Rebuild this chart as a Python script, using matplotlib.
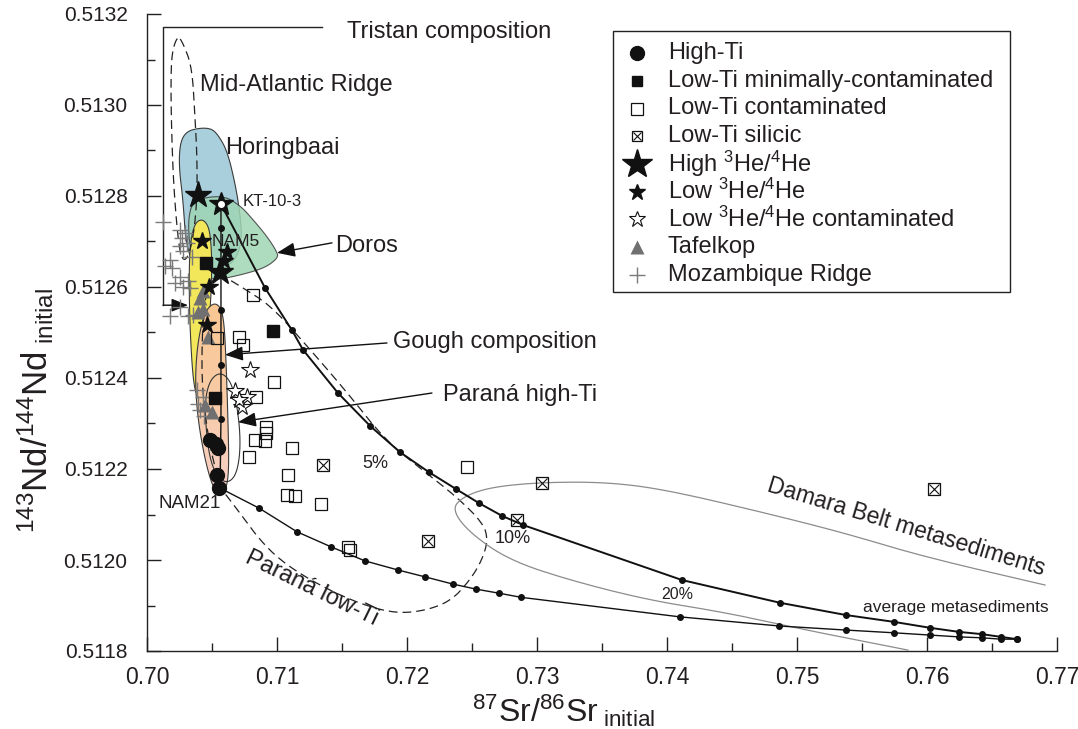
import numpy as np
import matplotlib
matplotlib.use('Agg')
import matplotlib.pyplot as plt
from matplotlib import font_manager
from matplotlib.patches import Polygon, Rectangle
from matplotlib.colors import LinearSegmentedColormap
from matplotlib.ticker import MultipleLocator, FormatStrFormatter


def has_font(name):
    try:
        font_manager.findfont(font_manager.FontProperties(family=name), fallback_to_default=False)
        return True
    except Exception:
        return False


REG = 'Liberation Sans' if has_font('Liberation Sans') else 'DejaVu Sans'
HAS_NARROW = has_font('Liberation Sans Narrow')
NARROW = 'Liberation Sans Narrow' if HAS_NARROW else REG

plt.rcParams['font.family'] = [REG, 'DejaVu Sans']
plt.rcParams['mathtext.fontset'] = 'custom'
plt.rcParams['mathtext.rm'] = NARROW
plt.rcParams['mathtext.it'] = NARROW + ':italic'
plt.rcParams['mathtext.bf'] = NARROW + ':bold'

TXT = '#231f20'

# ---- sample data (87Sr/86Sr, 143Nd/144Nd) ----
hiti_sr = [0.70485, 0.70531, 0.70546, 0.70538, 0.70554]
hiti_nd = [0.512264, 0.512255, 0.512246, 0.512187, 0.512158]

lowti_min_sr = [0.70454, 0.70523, 0.70969]
lowti_min_nd = [0.512653, 0.512356, 0.512503]

lowti_cont_sr = [0.70815, 0.70538, 0.70708, 0.70738, 0.70977, 0.70838, 0.70915, 0.70915, 0.70831,
                 0.70908, 0.70785, 0.71115, 0.71085, 0.71077, 0.71138, 0.71338, 0.71546, 0.71562, 0.72462]
lowti_cont_nd = [0.512582, 0.512488, 0.512490, 0.512473, 0.512391, 0.512358, 0.512292, 0.512279, 0.512264,
                 0.512262, 0.512226, 0.512246, 0.512187, 0.512143, 0.512141, 0.512123, 0.512029, 0.512022, 0.512204]

silicic_sr = [0.71354, 0.72162, 0.72846, 0.73038, 0.76054]
silicic_nd = [0.512209, 0.512042, 0.512088, 0.512169, 0.512156]

hihe_sr = [0.70392, 0.70562]
hihe_nd = [0.512802, 0.512633]

lowhe_sr = [0.70423, 0.70615, 0.70592, 0.70477, 0.70462]
lowhe_nd = [0.512701, 0.512677, 0.512657, 0.512600, 0.512516]

kt_sr, kt_nd = 0.70569, 0.512782

lowhe_cont_sr = [0.70792, 0.70677, 0.70769, 0.70731, 0.70708]
lowhe_cont_nd = [0.512418, 0.512371, 0.512358, 0.512336, 0.512352]

tafel_sr = [0.70431, 0.70408, 0.70431, 0.70392, 0.70469, 0.70500, 0.70446]
tafel_nd = [0.512591, 0.512576, 0.512552, 0.512545, 0.512490, 0.512325, 0.512341]

moz_sr = [0.70123, 0.70254, 0.70292, 0.70269, 0.70308, 0.70254, 0.70277, 0.70346, 0.70177, 0.70138,
          0.70192, 0.70254, 0.70315, 0.70215, 0.70277, 0.70331, 0.70254, 0.70177, 0.70315, 0.70354,
          0.70385, 0.70431, 0.70392, 0.70408, 0.70438]
moz_nd = [0.512743, 0.512725, 0.512719, 0.512708, 0.512697, 0.512690, 0.512679, 0.512666, 0.512659, 0.512646,
          0.512642, 0.512622, 0.512613, 0.512609, 0.512600, 0.512598, 0.512556, 0.512536, 0.512536, 0.512538,
          0.512374, 0.512358, 0.512343, 0.512330, 0.512316]

# ---- mixing curves ----
vert_sr = [0.70569, 0.70569, 0.70569, 0.70569, 0.70569, 0.70562]
vert_nd = [0.512782, 0.512730, 0.512549, 0.512429, 0.512310, 0.512158]

upper_sr = [0.70569, 0.70908, 0.71115, 0.71200, 0.71469, 0.71715, 0.71946, 0.72169, 0.72377, 0.72554,
            0.72731, 0.72892, 0.74115, 0.74869, 0.75377, 0.75746, 0.76023, 0.76246, 0.76423, 0.76569, 0.76692]
upper_nd = [0.512782, 0.512598, 0.512505, 0.512462, 0.512367, 0.512295, 0.512237, 0.512193, 0.512156, 0.512125,
            0.512097, 0.512077, 0.511956, 0.511906, 0.511879, 0.511864, 0.511851, 0.511842, 0.511837, 0.511831, 0.511826]

lower_sr = [0.70562, 0.70862, 0.71154, 0.71415, 0.71677, 0.71931, 0.72138, 0.72354, 0.72531, 0.72708,
            0.72877, 0.74100, 0.74862, 0.75377, 0.75746, 0.76023, 0.76246, 0.76423, 0.76569, 0.76692]
lower_nd = [0.512158, 0.512114, 0.512062, 0.512029, 0.511998, 0.511978, 0.511963, 0.511947, 0.511936, 0.511927,
            0.511918, 0.511875, 0.511855, 0.511846, 0.511840, 0.511835, 0.511831, 0.511829, 0.511826, 0.511826]

# ---- fields ----
horing_sr = [0.70392, 0.70485, 0.70538, 0.70615, 0.70677, 0.70715, 0.70731, 0.70677, 0.70523, 0.70369,
             0.70300, 0.70277, 0.70246, 0.70254, 0.70300]
horing_nd = [0.512949, 0.512949, 0.512938, 0.512901, 0.512829, 0.512763, 0.512703, 0.512655, 0.512633, 0.512642,
             0.512692, 0.512791, 0.512864, 0.512916, 0.512941]

doros_sr = [0.70354, 0.70577, 0.70715, 0.70831, 0.70931, 0.71000, 0.71008, 0.70908, 0.70715, 0.70523,
            0.70408, 0.70331, 0.70315]
doros_nd = [0.512791, 0.512802, 0.512780, 0.512743, 0.512708, 0.512677, 0.512664, 0.512642, 0.512626, 0.512615,
            0.512626, 0.512681, 0.512747]

nam5_sr = [0.70408, 0.70454, 0.70485, 0.70500, 0.70492, 0.70462, 0.70423, 0.70385, 0.70354, 0.70331,
           0.70323, 0.70331, 0.70362]
nam5_nd = [0.512749, 0.512743, 0.512721, 0.512659, 0.512571, 0.512484, 0.512400, 0.512356, 0.512396, 0.512505,
           0.512615, 0.512692, 0.512736]

nam21_sr = [0.70508, 0.70562, 0.70592, 0.70608, 0.70623, 0.70631, 0.70608, 0.70562, 0.70508, 0.70446,
            0.70392, 0.70369, 0.70392, 0.70446]
nam21_nd = [0.512565, 0.512558, 0.512527, 0.512440, 0.512308, 0.512198, 0.512154, 0.512143, 0.512158, 0.512220,
            0.512308, 0.512396, 0.512484, 0.512545]

parhi_sr = [0.70562, 0.70638, 0.70685, 0.70715, 0.70715, 0.70685, 0.70623, 0.70546, 0.70485, 0.70454,
            0.70446, 0.70485]
parhi_nd = [0.512413, 0.512396, 0.512352, 0.512286, 0.512231, 0.512187, 0.512169, 0.512180, 0.512220, 0.512286,
            0.512352, 0.512396]

parlo_sr = [0.70515, 0.70600, 0.70738, 0.70946, 0.71177, 0.71523, 0.71831, 0.72100, 0.72385, 0.72585,
            0.72623, 0.72577, 0.72485, 0.72331, 0.72100, 0.71869, 0.71562, 0.71254, 0.71023, 0.70869,
            0.70754, 0.70638, 0.70577, 0.70485, 0.70423, 0.70423, 0.70446]
parlo_nd = [0.512622, 0.512622, 0.512598, 0.512560, 0.512488, 0.512374, 0.512264, 0.512202, 0.512138, 0.512081,
            0.512044, 0.512000, 0.511956, 0.511908, 0.511886, 0.511884, 0.511912, 0.511956, 0.512000, 0.512044,
            0.512088, 0.512132, 0.512154, 0.512242, 0.512374, 0.512490, 0.512582]

mar_sr = [0.70238, 0.70277, 0.70346, 0.70369, 0.70385, 0.70385, 0.70354, 0.70300, 0.70254, 0.70223,
          0.70200, 0.70185, 0.70185, 0.70200]
mar_nd = [0.513152, 0.513136, 0.513084, 0.512974, 0.512886, 0.512791, 0.512703, 0.512655, 0.512670, 0.512754,
          0.512851, 0.512989, 0.513084, 0.513125]

damara_sr = [0.75854, 0.75069, 0.74462, 0.73854, 0.73246, 0.72785, 0.72485, 0.72346, 0.72423, 0.72638,
             0.73038, 0.73546, 0.74000, 0.74762, 0.75369, 0.75977, 0.76908]
damara_nd = [0.511802, 0.511846, 0.511884, 0.511912, 0.511956, 0.512000, 0.512059, 0.512110, 0.512138, 0.512160,
             0.512171, 0.512171, 0.512154, 0.512103, 0.512059, 0.512007, 0.511945]

tristan_sr = [0.71346, 0.70123, 0.70123]
tristan_nd = [0.513171, 0.513171, 0.512560]
tristan_tip = (0.70315, 0.512560)

legend_labels = ['High-Ti', 'Low-Ti minimally-contaminated', 'Low-Ti contaminated', 'Low-Ti silicic',
                 'High $^{3}$He/$^{4}$He', 'Low $^{3}$He/$^{4}$He', 'Low $^{3}$He/$^{4}$He contaminated',
                 'Tafelkop', 'Mozambique Ridge']


def smooth(xs, ys, closed=True, n=3):
    pts = np.column_stack([xs, ys]).astype(float)
    for _ in range(n):
        if closed:
            q = np.roll(pts, -1, axis=0)
            new = np.empty((2 * len(pts), 2))
            new[0::2] = 0.75 * pts + 0.25 * q
            new[1::2] = 0.25 * pts + 0.75 * q
            pts = new
        else:
            p, q = pts[:-1], pts[1:]
            new = np.empty((2 * len(p), 2))
            new[0::2] = 0.75 * p + 0.25 * q
            new[1::2] = 0.25 * p + 0.75 * q
            pts = np.vstack([pts[:1], new, pts[-1:]])
    return pts


fig = plt.figure(figsize=(10.78, 7.29), dpi=100)
ax = fig.add_axes([147 / 1078, 1 - 651 / 729, 910 / 1078, 637 / 729])

# fields
ax.add_patch(Polygon(smooth(horing_sr, horing_nd), closed=True, fc='#a9cfdc', ec='#3a3a3a', lw=0.8, zorder=1))
ax.add_patch(Polygon(smooth(doros_sr, doros_nd), closed=True, fc='#9fd6b4', ec='#3a3a3a', lw=0.8, alpha=0.85, zorder=2))
ax.add_patch(Polygon(smooth(nam5_sr, nam5_nd), closed=True, fc='#f2e65a', ec='#3a3a3a', lw=0.8, zorder=3))
orange = Polygon(smooth(nam21_sr, nam21_nd), closed=True, fc='none', ec='#3a3a3a', lw=0.8, zorder=4.1)
ax.add_patch(orange)
grad = np.linspace(0, 1, 256).reshape(-1, 1)
cmap = LinearSegmentedColormap.from_list('op', ['#f7d0c8', '#f8cba6', '#fac792'])
im = ax.imshow(grad, extent=[min(nam21_sr), max(nam21_sr), min(nam21_nd), max(nam21_nd)],
               origin='lower', cmap=cmap, aspect='auto', zorder=4, interpolation='bilinear')
im.set_clip_path(orange)

ax.add_patch(Polygon(smooth(parhi_sr, parhi_nd), closed=True, fill=False, ec='#333333', lw=0.8, zorder=5))
ax.add_patch(Polygon(smooth(parlo_sr, parlo_nd, n=2), closed=True, fill=False, ec='#222222', lw=0.9,
                     ls=(0, (7, 4)), zorder=5))
ax.add_patch(Polygon(smooth(mar_sr, mar_nd), closed=True, fill=False, ec='#222222', lw=0.9,
                     ls=(0, (7, 4)), zorder=5))
dm = smooth(damara_sr, damara_nd, closed=False)
ax.plot(dm[:, 0], dm[:, 1], color='#8c8c8c', lw=0.9, zorder=5)

# Tristan bracket
ax.plot(tristan_sr, tristan_nd, color='#222222', lw=1.0, zorder=5)
ax.annotate('', xy=tristan_tip, xytext=(tristan_sr[-1], tristan_nd[-1]),
            arrowprops=dict(arrowstyle='-|>,head_length=0.5,head_width=0.2', color='#111111', lw=1.0,
                            mutation_scale=20, shrinkA=0, shrinkB=0), zorder=6)

# mixing curves
ax.plot(vert_sr, vert_nd, color='#111111', lw=1.0, zorder=6)
ax.plot(vert_sr[1:-1], vert_nd[1:-1], 'o', color='#111111', ms=4, zorder=6)
ax.plot(upper_sr, upper_nd, color='#111111', lw=1.4, zorder=6)
ax.plot(upper_sr[1:], upper_nd[1:], 'o', color='#111111', ms=4, zorder=6)
ax.plot(lower_sr, lower_nd, color='#111111', lw=1.0, zorder=6)
ax.plot(lower_sr[1:], lower_nd[1:], 'o', color='#111111', ms=4, zorder=6)

# samples
ax.plot(moz_sr, moz_nd, '+', color='#7a7a7a', ms=11, mew=1.0, zorder=7)
ax.plot(tafel_sr, tafel_nd, '^', color='#707070', ms=10, mec='none', zorder=8)
ax.plot(lowti_cont_sr, lowti_cont_nd, 's', mfc='none', mec='#111111', ms=8, mew=0.9, zorder=8)
ax.plot(silicic_sr, silicic_nd, 's', mfc='none', mec='#111111', ms=8, mew=0.9, zorder=8)
ax.plot(silicic_sr, silicic_nd, 'x', color='#111111', ms=7, mew=0.8, zorder=8)
ax.plot(lowti_min_sr, lowti_min_nd, 's', color='#111111', ms=8, zorder=9)
ax.plot(hiti_sr, hiti_nd, 'o', color='#111111', ms=10, zorder=9)
ax.plot(lowhe_cont_sr, lowhe_cont_nd, '*', mfc='white', mec='#111111', ms=13, mew=0.8, zorder=9)
ax.plot(lowhe_sr, lowhe_nd, '*', color='#111111', ms=13, zorder=10)
ax.plot(hihe_sr, hihe_nd, '*', color='#111111', ms=20, zorder=10)
ax.plot([kt_sr], [kt_nd], '*', color='#111111', ms=18, zorder=10)
ax.plot([kt_sr], [kt_nd], 'o', color='white', ms=4, zorder=11)

# arrows
arrows = [((0.71846, 0.512477), (0.70600, 0.512451)),
          ((0.72192, 0.512367), (0.70700, 0.512303)),
          ((0.71423, 0.512697), (0.71000, 0.512675))]
for tail, tip in arrows:
    ax.annotate('', xy=tip, xytext=tail,
                arrowprops=dict(arrowstyle='-|>,head_length=0.55,head_width=0.22', color='#111111', lw=1.0,
                                mutation_scale=20, shrinkA=0, shrinkB=0), zorder=11)

# labels
labels = [
    ('Tristan composition', 0.71538, 0.513160, 17),
    ('Mid-Atlantic Ridge', 0.70408, 0.513044, 17),
    ('Horingbaai', 0.70600, 0.512905, 17),
    ('KT-10-3', 0.70738, 0.512787, 12),
    ('NAM5', 0.70500, 0.512699, 12.5),
    ('Doros', 0.71446, 0.512690, 17),
    ('Gough composition', 0.71892, 0.512479, 17),
    ('Paraná high-Ti', 0.72277, 0.512363, 17),
    ('5%', 0.71654, 0.512213, 13),
    ('NAM21', 0.70085, 0.512125, 13.5),
    ('10%', 0.72677, 0.512048, 13),
    ('20%', 0.73954, 0.511925, 11.5),
    ('average metasediments', 0.75508, 0.511895, 12.5),
]
for s, x, y, fs in labels:
    ax.text(x, y, s, fontsize=fs, color=TXT, ha='left', va='center', zorder=12)
ax.text(0.71269, 0.511938, 'Paraná low-Ti', fontsize=17, color=TXT, rotation=-26,
        ha='center', va='center', rotation_mode='anchor', zorder=12)
ax.text(0.75838, 0.512073, 'Damara Belt metasediments', fontsize=16.5, color=TXT, rotation=-17,
        ha='center', va='center', rotation_mode='anchor', zorder=12)


# legend box drawn by hand
def ax_frac(px, py):
    return (px - 147) / 910, (651 - py) / 637


x0, y1 = ax_frac(613, 31)
x1, y0 = ax_frac(1010, 292)
ax.add_patch(Rectangle((x0, y0), x1 - x0, y1 - y0, transform=ax.transAxes, fc='white', ec='#222222',
                       lw=1.0, zorder=20, clip_on=False))
leg_styles = [
    dict(marker='o', color='#111111', ms=10),
    dict(marker='s', color='#111111', ms=7.5),
    dict(marker='s', mfc='none', mec='#111111', ms=8, mew=0.9),
    dict(marker='s', mfc='none', mec='#111111', ms=7, mew=0.9),
    dict(marker='*', color='#111111', ms=22),
    dict(marker='*', color='#111111', ms=12),
    dict(marker='*', mfc='white', mec='#111111', ms=12, mew=0.8),
    dict(marker='^', color='#707070', ms=10, mec='none'),
    dict(marker='+', color='#7a7a7a', ms=12, mew=1.0),
]
mx, _ = ax_frac(637, 0)
tx, _ = ax_frac(668, 0)
for i, (lab, st) in enumerate(zip(legend_labels, leg_styles)):
    _, yy = ax_frac(0, 53 + 27.75 * i)
    ax.plot([mx], [yy], transform=ax.transAxes, ls='none', clip_on=False, zorder=21, **st)
    if i == 3:
        ax.plot([mx], [yy], transform=ax.transAxes, marker='x', color='#111111', ms=6, mew=0.8,
                ls='none', clip_on=False, zorder=21)
    ax.text(tx, yy, lab, transform=ax.transAxes, fontsize=17, color=TXT, va='center', ha='left', zorder=22)

# axes
ax.set_xlim(0.70, 0.77)
ax.set_ylim(0.5118, 0.5132)
for sp in ['top', 'right']:
    ax.spines[sp].set_visible(False)
for sp in ['left', 'bottom']:
    ax.spines[sp].set_linewidth(1.0)
    ax.spines[sp].set_color('#222222')
ax.xaxis.set_major_locator(MultipleLocator(0.01))
ax.xaxis.set_minor_locator(MultipleLocator(0.005))
ax.yaxis.set_major_locator(MultipleLocator(0.0002))
ax.yaxis.set_minor_locator(MultipleLocator(0.0001))
ax.xaxis.set_major_formatter(FormatStrFormatter('%.2f'))
ax.yaxis.set_major_formatter(FormatStrFormatter('%.4f'))
ax.tick_params(which='major', direction='in', length=10, width=1.0, colors='#222222', labelcolor=TXT)
ax.tick_params(which='minor', direction='in', length=6, width=1.0, colors='#222222')
ax.tick_params(axis='x', labelsize=20 if HAS_NARROW else 16.5, labelfontfamily=NARROW, pad=11)
ax.tick_params(axis='y', labelsize=15, pad=14)

xlab_size = 28 if HAS_NARROW else 23
ylab_size = 28 if HAS_NARROW else 25
fig.text(564 / 1078, 1 - 711 / 729, r'$^{87}$Sr/$^{86}$Sr$_{\ \mathrm{initial}}$', fontsize=xlab_size,
         family=NARROW, color=TXT, ha='center', va='center')
fig.text(36 / 1078, 1 - 410 / 729, r'$^{143}$Nd/$^{144}$Nd$_{\ \mathrm{initial}}$', fontsize=ylab_size,
         family=NARROW, color=TXT, ha='center', va='center', rotation=90)

fig.savefig('out.png', dpi=100)
